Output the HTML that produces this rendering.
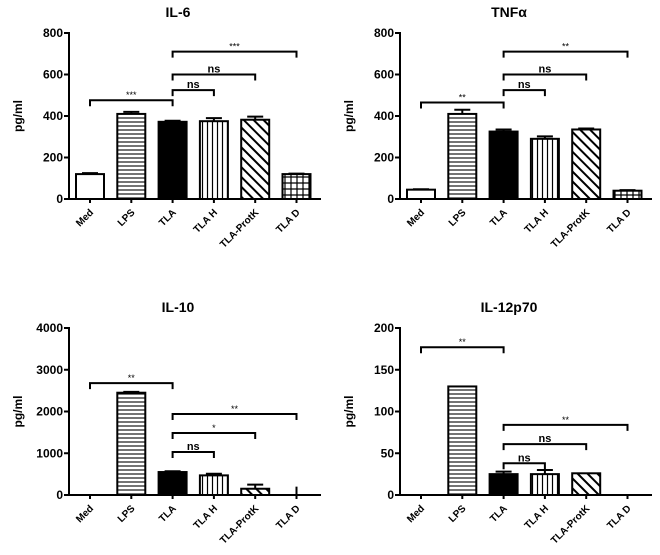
<!DOCTYPE html>
<html><head><meta charset="utf-8"><style>body{margin:0;background:#fff}svg{display:block;font-family:"Liberation Sans",Arial,sans-serif;font-weight:bold}</style></head>
<body>
<svg id="c" width="660" height="555">
<defs>
<pattern id="ph" width="4" height="4" patternUnits="userSpaceOnUse"><rect width="4" height="4" fill="#fff"/><line x1="0" y1="2" x2="4" y2="2" stroke="#000" stroke-width="1.1"/></pattern>
<pattern id="pv" width="5" height="4" patternUnits="userSpaceOnUse"><rect width="5" height="4" fill="#fff"/><line x1="2.5" y1="0" x2="2.5" y2="4" stroke="#000" stroke-width="1.2"/></pattern>
<pattern id="pd" width="7" height="7" patternUnits="userSpaceOnUse" patternTransform="rotate(-45)"><rect width="7" height="7" fill="#fff"/><line x1="3.5" y1="0" x2="3.5" y2="7" stroke="#000" stroke-width="2"/></pattern>
<pattern id="pg" width="6" height="6" patternUnits="userSpaceOnUse"><rect width="6" height="6" fill="#fff"/><path d="M0 3H6M3 0V6" stroke="#000" stroke-width="1.2"/></pattern>
</defs>
</svg>
<script>
const categories=["Med","LPS","TLA","TLA H","TLA-ProtK","TLA D"];
const il6Values=[120,410,372,375,382,120];
const il6Errors=[5,10,5,15,15,2];
const tnfValues=[45,410,325,290,335,40];
const tnfErrors=[2,20,10,12,5,3];
const il10Values=[0,2450,550,470,150,0];
const il10Errors=[0,20,20,40,100,200];
const il12Values=[0,130,25,25,26,0];
const il12Errors=[0,0,3,5,0,0];
const il6Ticks=[0,200,400,600,800];
const tnfTicks=[0,200,400,600,800];
const il10Ticks=[0,1000,2000,3000,4000];
const il12Ticks=[0,50,100,150,200];
const il6Sig=[[0,2,476,"***"],[2,3,525,"ns"],[2,4,600,"ns"],[2,5,710,"***"]];
const tnfSig=[[0,2,465,"**"],[2,3,525,"ns"],[2,4,600,"ns"],[2,5,710,"**"]];
const il10Sig=[[0,2,2680,"**"],[2,3,1030,"ns"],[2,4,1485,"*"],[2,5,1940,"**"]];
const il12Sig=[[0,2,177,"**"],[2,3,38,"ns"],[2,4,61,"ns"],[2,5,84,"**"]];
const fills=["#fff","url(#ph)","#000","url(#pv)","url(#pd)","url(#pg)"];
const NS="http://www.w3.org/2000/svg",svg=document.getElementById("c");
function mk(t,a,p){const e=document.createElementNS(NS,t);for(const k in a)e.setAttribute(k,a[k]);(p||svg).appendChild(e);return e;}
function panel(name,title,ox,top,bottom,values,errors,ticks,sigs){
  const g=mk("g",{});
  
  
  const max=ticks[ticks.length-1];
  const y=v=>bottom-(v/max)*(bottom-top);
  const x=i=>ox+21+i*41.3;
  const t=mk("text",{x:ox+109,y:top-16,"font-size":14,"text-anchor":"middle"},g);t.textContent=title;
  
  
  const yl=mk("text",{transform:`translate(${ox-47},${(top+bottom)/2}) rotate(-90)`,"font-size":12,"text-anchor":"middle"},g);yl.textContent="pg/ml";
  
  
  values.forEach((v,i)=>{
    const cx=x(i),w=28;
    const r=mk("rect",{x:cx-w/2,y:y(v),width:w,height:Math.max(0,bottom-y(v)),fill:fills[i],stroke:"#000","stroke-width":2},g);
    
    
    if(v===0){r.setAttribute("stroke","none");}
    if(errors[i]>0){
      const e=mk("path",{d:`M${cx} ${y(v)}V${y(v+errors[i])}M${cx-8} ${y(v+errors[i])}H${cx+8}`,stroke:"#000","stroke-width":2,fill:"none"},g);
      if(v===0)e.setAttribute("d",`M${cx} ${y(v)}V${y(v+errors[i])}`);
      
      
    }
    const lb=mk("text",{transform:`translate(${cx+4},${bottom+14}) rotate(-45)`,"font-size":10,"text-anchor":"end"},g);lb.textContent=categories[i];
    
    
    mk("line",{x1:cx,x2:cx,y1:bottom,y2:bottom+4,stroke:"#000","stroke-width":2},g);
  });
  const ax=mk("path",{d:`M${ox} ${top-1}V${bottom}H${ox+252}`,stroke:"#000","stroke-width":2,fill:"none"},g);
  
  
  ticks.forEach(tv=>{
    mk("line",{x1:ox-5,x2:ox,y1:y(tv),y2:y(tv),stroke:"#000","stroke-width":2},g);
    const tt=mk("text",{x:ox-6,y:y(tv)+4,"font-size":12,"text-anchor":"end"},g);tt.textContent=tv;
    
    
  });
  sigs.forEach(s=>{
    const yy=y(s[2]),a=x(s[0]),b=x(s[1]);
    const p=mk("path",{d:`M${a} ${yy+6}V${yy}H${b}V${yy+6}`,stroke:"#000","stroke-width":2,fill:"none"},g);
    
    
    const st=mk("text",{x:(a+b)/2,y:yy-2,"font-size":s[3]==="ns"?11:9,"font-weight":s[3]==="ns"?"bold":"normal","text-anchor":"middle"},g);st.textContent=s[3];
    
    
  });
}
panel("il6","IL-6",69,33,199,il6Values,il6Errors,il6Ticks,il6Sig);
panel("tnf","TNFα",400,33,199,tnfValues,tnfErrors,tnfTicks,tnfSig);
panel("il10","IL-10",69,328,495,il10Values,il10Errors,il10Ticks,il10Sig);
panel("il12","IL-12p70",400,328,495,il12Values,il12Errors,il12Ticks,il12Sig);
</script>
</body></html>
